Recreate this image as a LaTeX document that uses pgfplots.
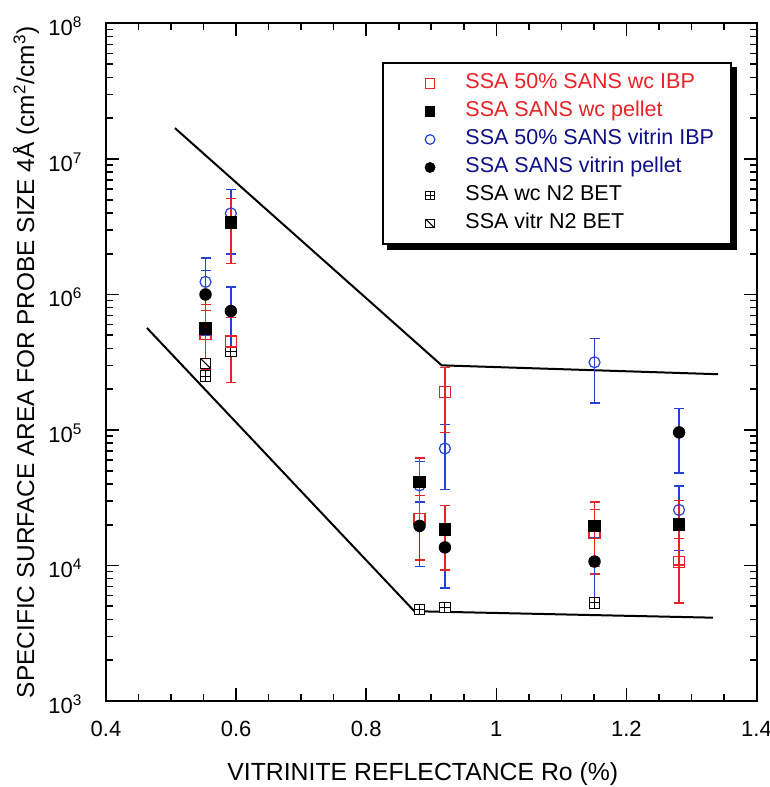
\documentclass[border=0pt]{standalone}
\usepackage{fontspec}
\setmainfont{Liberation Sans}
\usepackage{pgfplots}
\pgfplotsset{compat=1.18}
\definecolor{sred}{RGB}{232,35,40}
\definecolor{sblue}{RGB}{35,65,215}
\definecolor{snavy}{RGB}{15,15,135}

\pgfdeclareplotmark{boxplus}{%
  \pgfpathrectangle{\pgfpoint{-\pgfplotmarksize}{-\pgfplotmarksize}}{\pgfpoint{2\pgfplotmarksize}{2\pgfplotmarksize}}%
  \pgfusepathqfillstroke
  \pgfpathmoveto{\pgfpoint{-\pgfplotmarksize}{0pt}}\pgfpathlineto{\pgfpoint{\pgfplotmarksize}{0pt}}%
  \pgfpathmoveto{\pgfpoint{0pt}{-\pgfplotmarksize}}\pgfpathlineto{\pgfpoint{0pt}{\pgfplotmarksize}}%
  \pgfusepathqstroke}
\pgfdeclareplotmark{boxdiag}{%
  \pgfpathrectangle{\pgfpoint{-\pgfplotmarksize}{-\pgfplotmarksize}}{\pgfpoint{2\pgfplotmarksize}{2\pgfplotmarksize}}%
  \pgfusepathqfillstroke
  \pgfpathmoveto{\pgfpoint{-\pgfplotmarksize}{\pgfplotmarksize}}\pgfpathlineto{\pgfpoint{\pgfplotmarksize}{-\pgfplotmarksize}}%
  \pgfusepathqstroke}
\newcommand{\lt}[1]{\hspace*{15.3pt}#1\hspace*{-12.8pt}}

\begin{document}
\begin{tikzpicture}
\begin{axis}[
  scale only axis, width=325.25pt, height=338.75pt,
  ymode=log, xmin=0.4, xmax=1.4, ymin=1e3, ymax=1e8,
  xtick={0.4,0.6,0.8,1,1.2,1.4},
  xticklabels={0.4,0.6,0.8,1,1.2,1.4},
  minor x tick num=3,
  ytick={1e3,1e4,1e5,1e6,1e7,1e8},
  yticklabels={10\textsuperscript{3},10\textsuperscript{4},10\textsuperscript{5},10\textsuperscript{6},10\textsuperscript{7},10\textsuperscript{8}},
  minor ytick={2e3,3e3,4e3,5e3,6e3,7e3,8e3,9e3,2e4,3e4,4e4,5e4,6e4,7e4,8e4,9e4,2e5,3e5,4e5,5e5,6e5,7e5,8e5,9e5,2e6,3e6,4e6,5e6,6e6,7e6,8e6,9e6,2e7,3e7,4e7,5e7,6e7,7e7,8e7,9e7},
  tick align=inside,
  major tick length=6.3pt, minor tick length=3.5pt,
  tick style={line width=0.8pt, black},
  axis line style={line width=1pt},
  xticklabel style={font=\fontsize{11}{13}\selectfont, anchor=base, yshift=-18pt},
  yticklabel style={font=\fontsize{11}{13}\selectfont, xshift=-8.3pt, yshift=-1.5pt},
  xlabel={VITRINITE REFLECTANCE Ro (\%)},
  ylabel={SPECIFIC SURFACE AREA FOR PROBE SIZE 4Å (cm\textsuperscript{2}/cm\textsuperscript{3})},
  every axis x label/.style={at={(axis description cs:0.487,-0.1176)}, anchor=base, font=\fontsize{12.4}{14}\selectfont},
  every axis y label/.style={at={(axis description cs:-0.123,0.5)}, rotate=90, anchor=center, font=\fontsize{12.2}{14}\selectfont},
  legend cell align=left,
  legend image code/.code={\draw[#1] plot coordinates {(0pt,0pt)};},
  legend style={name=leg, at={(axis description cs:1,1)}, anchor=north east, xshift=-12.25pt, yshift=-19.25pt,
    draw=black, line width=1pt, fill=white,
    font=\fontsize{10.75}{12}\selectfont,
    inner xsep=21.3pt, inner ysep=5.5pt, row sep=4.5pt, column sep=0pt,
    cells={anchor=west},
    nodes={inner sep=0pt, text height=7.5pt, text depth=2pt}},
]
% legend entries in the reference order
\addlegendimage{only marks, mark=square, mark size=2.4pt, mark options={draw=sred, fill=white, line width=0.6pt}}
\addlegendentry{\lt{\textcolor{sred}{SSA 50\% SANS wc IBP}}}
\addlegendimage{only marks, mark=square*, mark size=2.4pt, mark options={draw=black, fill=black, line width=0.6pt}}
\addlegendentry{\lt{\textcolor{sred}{SSA SANS wc pellet}}}
\addlegendimage{only marks, mark=o, mark size=2.4pt, mark options={draw=sblue, fill=white, line width=0.6pt}}
\addlegendentry{\lt{\textcolor{snavy}{SSA 50\% SANS vitrin IBP}}}
\addlegendimage{only marks, mark=*, mark size=2.4pt, mark options={draw=black, fill=black, line width=0.6pt}}
\addlegendentry{\lt{\textcolor{snavy}{SSA SANS vitrin pellet}}}
\addlegendimage{only marks, mark=boxplus, mark size=2.2pt, mark options={draw=black, fill=white, line width=0.5pt}}
\addlegendentry{\lt{SSA wc N2 BET}}
\addlegendimage{only marks, mark=boxdiag, mark size=2.2pt, mark options={draw=black, fill=white, line width=0.5pt}}
\addlegendentry{\lt{SSA vitr N2 BET}}

% boundary lines
\addplot[forget plot, black, line width=1pt] coordinates {(0.506,1.69e7) (0.916,3.0e5) (1.341,2.58e5)};
\addplot[forget plot, black, line width=1pt] coordinates {(0.463,5.66e5) (0.874,4.6e3) (1.333,4.12e3)};

% N2 BET
\addplot[forget plot, only marks, mark=boxplus, mark size=2.6pt, mark options={draw=black, fill=white, line width=0.5pt}]
  coordinates {(0.553,2.5e5) (0.592,3.8e5) (0.882,4.75e3) (0.921,4.9e3) (1.151,5.3e3)};
\addplot[forget plot, only marks, mark=boxdiag, mark size=2.6pt, mark options={draw=black, fill=white, line width=0.5pt}]
  coordinates {(0.553,3.1e5)};

% SSA 50% SANS vitrin IBP (open blue circles)
\addplot[forget plot, only marks, mark=o, mark size=2.75pt, mark options={draw=sblue, fill=white, line width=0.6pt},
  error bars/.cd, y dir=both, y fixed relative=0.5,
  error bar style={sblue, line width=0.7pt}, error mark options={sblue, rotate=90, mark size=2.5pt, line width=0.7pt}]
  coordinates {(0.553,1.24e6) (0.592,3.97e6) (0.882,3.9e4) (0.921,7.3e4) (1.151,3.16e5) (1.281,2.57e4)};

% SSA 50% SANS wc IBP (open red squares)
\addplot[forget plot, only marks, mark=square, mark size=2.75pt, mark options={draw=sred, fill=white, line width=0.6pt},
  error bars/.cd, y dir=both, y fixed relative=0.5,
  error bar style={sred, line width=0.7pt}, error mark options={sred, rotate=90, mark size=2.5pt, line width=0.7pt}]
  coordinates {(0.553,5.1e5) (0.592,4.5e5) (0.882,2.2e4) (0.921,1.92e5) (1.151,1.73e4) (1.281,1.06e4)};

% SSA SANS vitrin pellet (filled black circles, blue bars)
\addplot[forget plot, only marks, mark=*, mark size=2.9pt, mark options={draw=black, fill=black},
  error bars/.cd, y dir=both, y fixed relative=0.5,
  error bar style={sblue, line width=0.7pt}, error mark options={sblue, rotate=90, mark size=2.5pt, line width=0.7pt}]
  coordinates {(0.553,1.0e6) (0.592,7.55e5) (0.882,1.96e4) (0.921,1.36e4) (1.151,1.07e4) (1.281,9.6e4)};

% SSA SANS wc pellet (filled black squares, red bars)
\addplot[forget plot, only marks, mark=square*, mark size=2.9pt, mark options={draw=black, fill=black},
  error bars/.cd, y dir=both, y fixed relative=0.5,
  error bar style={sred, line width=0.7pt}, error mark options={sred, rotate=90, mark size=2.5pt, line width=0.7pt}]
  coordinates {(0.553,5.6e5) (0.592,3.4e6) (0.882,4.15e4) (0.921,1.85e4) (1.151,1.96e4) (1.281,2.02e4)};
\end{axis}
% drop shadow of the legend box
\fill[black] ([xshift=2.5pt,yshift=-2.5pt]leg.south west) rectangle ([xshift=2.5pt]leg.south east);
\fill[black] ([yshift=-2.5pt]leg.north east) rectangle ([xshift=2.5pt,yshift=-2.5pt]leg.south east);
\pgfresetboundingbox
\path[use as bounding box] ([xshift=-53pt,yshift=-43pt]current axis.south west) rectangle ([xshift=6.75pt,yshift=11.75pt]current axis.north east);
\end{tikzpicture}
\end{document}
